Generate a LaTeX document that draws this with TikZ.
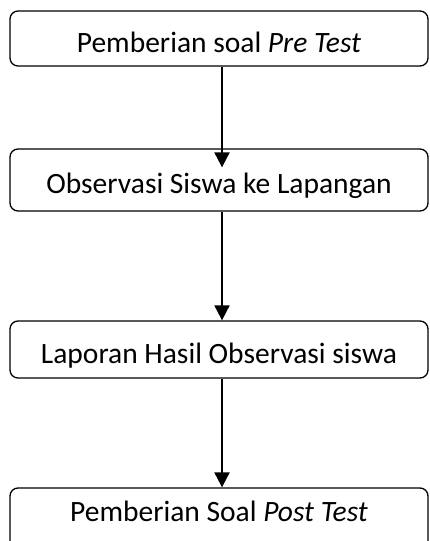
\documentclass[tikz,border=0pt]{standalone}
\usepackage{fontspec}
\setmainfont{Carlito}
\usetikzlibrary{arrows.meta}

\begin{document}
\begin{tikzpicture}[x=1pt,y=-1pt,
        font=\fontsize{29.5}{35}\selectfont,
        stepbox/.style={draw,line width=1.3pt,rounded corners=8pt,minimum width=418pt,inner sep=0pt,
            text height=27pt,text depth=0pt},
        flow/.style={line width=2pt,-{Triangle[width=15pt,length=15pt]}}]

    \useasboundingbox (0,0) rectangle (429,541);
    \clip (0,0) rectangle (429,541);

    \node[stepbox,minimum height=55pt] (pre) at (219,38.5) {Pemberian soal \textit{Pre Test}};
    \node[stepbox,minimum height=62pt] (obs) at (219,180) {Observasi Siswa ke Lapangan};
    \node[stepbox,minimum height=57pt] (lap) at (219,349.5) {Laporan Hasil Observasi siswa};
    \node[stepbox,minimum height=80pt,text depth=41pt] (post) at (219,528) {Pemberian Soal \textit{Post Test}};

    \coordinate (tip) at ([xshift=3pt,yshift=-19pt]obs.north);

    \draw[flow] ([xshift=3pt]pre.south) -- (tip);
    \draw[flow] ([xshift=3pt]obs.south) -- ([xshift=3pt]lap.north);
    \draw[flow] ([xshift=3pt]lap.south) -- ([xshift=3pt]post.north);
\end{tikzpicture}
\end{document}
